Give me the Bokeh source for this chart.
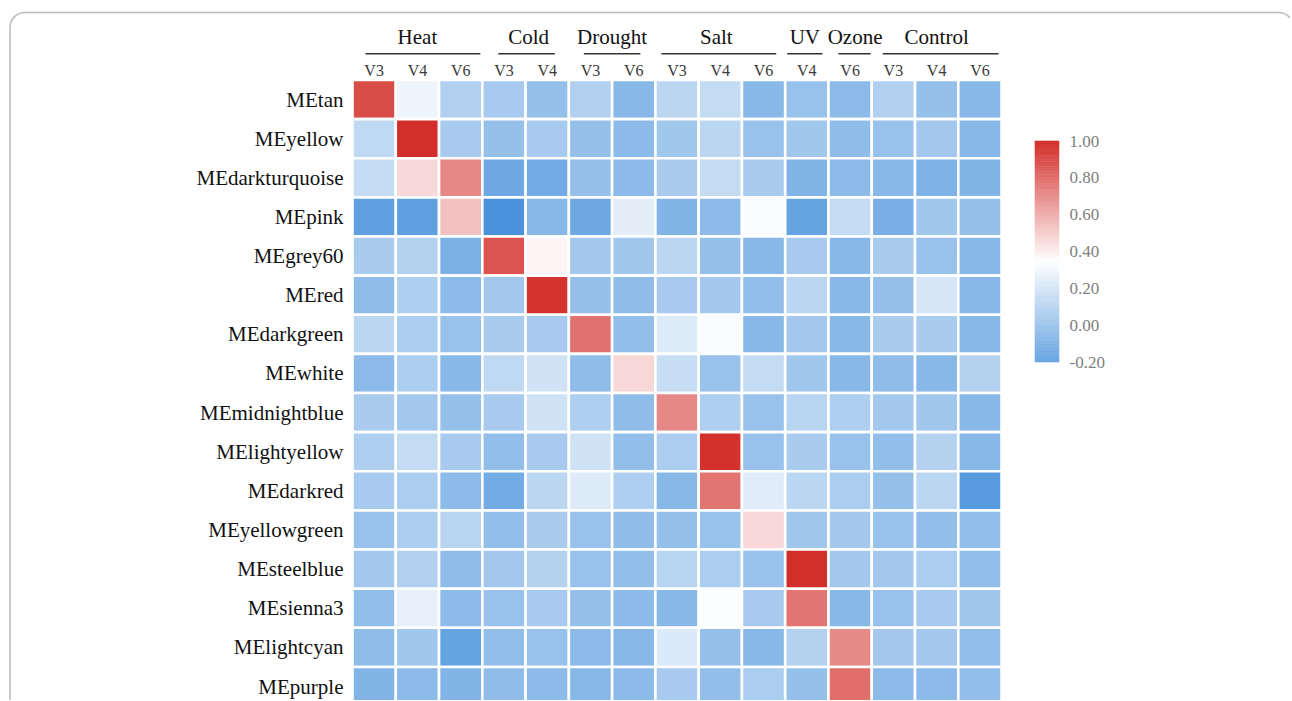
import numpy as np
from bokeh.plotting import figure
from bokeh.models import ColumnDataSource, LinearColorMapper, Range1d, BoxAnnotation
from bokeh.transform import transform
from bokeh.core.properties import value
from bokeh.embed import file_html
from bokeh.resources import INLINE

# ---------------- data ----------------
modules = ["MEtan", "MEyellow", "MEdarkturquoise", "MEpink", "MEgrey60", "MEred",
           "MEdarkgreen", "MEwhite", "MEmidnightblue", "MElightyellow", "MEdarkred",
           "MEyellowgreen", "MEsteelblue", "MEsienna3", "MElightcyan", "MEpurple"]
groups = ["Heat", "Cold", "Drought", "Salt", "UV", "Ozone", "Control"]
group_sizes = [3, 2, 2, 3, 1, 1, 3]
conditions = ["V3", "V4", "V6", "V3", "V4", "V3", "V6", "V3", "V4", "V6",
              "V4", "V6", "V3", "V4", "V6"]
cbar_ticks = [-0.2, 0.0, 0.2, 0.4, 0.6, 0.8, 1.0]

MEtan           = [0.90, 0.29, 0.07, 0.03, -0.03, 0.07, -0.08, 0.10, 0.13, -0.08, -0.02, -0.06, 0.07, -0.03, -0.08]
MEyellow        = [0.12, 1.00, 0.03, -0.03, 0.03, -0.03, -0.06, 0.01, 0.10, -0.02, 0.01, -0.05, -0.02, 0.02, -0.08]
MEdarkturquoise = [0.13, 0.47, 0.72, -0.17, -0.15, -0.03, -0.06, 0.04, 0.13, 0.04, -0.10, -0.06, -0.08, -0.11, -0.10]
MEpink          = [-0.22, -0.22, 0.54, -0.30, -0.08, -0.17, 0.25, -0.10, -0.06, 0.33, -0.20, 0.13, -0.13, 0.01, -0.03]
MEgrey60        = [0.04, 0.08, -0.12, 0.88, 0.38, 0.02, 0.01, 0.10, -0.03, -0.08, 0.03, -0.08, 0.04, -0.02, -0.08]
MEred           = [-0.05, 0.06, -0.06, 0.02, 0.98, -0.03, -0.05, 0.03, 0.02, -0.04, 0.10, -0.08, -0.03, 0.20, -0.08]
MEdarkgreen     = [0.10, 0.05, -0.02, 0.04, 0.03, 0.79, -0.04, 0.23, 0.33, -0.08, 0.02, -0.08, 0.04, 0.04, -0.08]
MEwhite         = [-0.06, 0.05, -0.08, 0.12, 0.18, -0.05, 0.47, 0.15, -0.02, 0.13, 0.01, -0.08, -0.05, -0.08, 0.08]
MEmidnightblue  = [0.04, 0.02, -0.03, 0.03, 0.18, 0.06, -0.05, 0.72, 0.06, -0.02, 0.09, 0.06, 0.02, 0.01, -0.08]
MElightyellow   = [0.06, 0.13, 0.03, -0.04, 0.03, 0.18, -0.04, 0.05, 0.99, -0.02, 0.04, -0.02, -0.04, 0.08, -0.08]
MEdarkred       = [0.03, 0.05, -0.06, -0.15, 0.10, 0.23, 0.06, -0.08, 0.78, 0.24, 0.10, 0.05, -0.03, 0.10, -0.25]
MEyellowgreen   = [-0.02, 0.05, 0.09, -0.04, 0.04, -0.02, -0.05, -0.03, -0.02, 0.47, 0.01, 0.02, -0.02, -0.04, -0.04]
MEsteelblue     = [0.02, 0.07, -0.05, 0.02, 0.08, -0.02, -0.04, 0.09, 0.05, -0.02, 1.00, 0.02, 0.02, 0.05, -0.04]
MEsienna3       = [-0.04, 0.26, -0.06, -0.02, 0.03, -0.03, -0.06, -0.08, 0.34, 0.03, 0.78, -0.08, -0.02, 0.03, 0.01]
MElightcyan     = [-0.05, 0.01, -0.20, -0.04, -0.02, -0.06, -0.08, 0.22, -0.03, -0.08, 0.08, 0.71, 0.02, 0.02, -0.04]
MEpurple        = [-0.10, -0.06, -0.10, -0.05, -0.06, -0.08, -0.06, 0.03, -0.04, 0.05, -0.03, 0.80, -0.06, -0.06, -0.04]

rows = [MEtan, MEyellow, MEdarkturquoise, MEpink, MEgrey60, MEred, MEdarkgreen, MEwhite,
        MEmidnightblue, MElightyellow, MEdarkred, MEyellowgreen, MEsteelblue, MEsienna3,
        MElightcyan, MEpurple]

# ---------------- layout (pixels on the canvas) ----------------
W, H = 1290, 700
CELL_W, CELL_H = 43.27, 39.13
GRID_LEFT, GRID_TOP = 352.0, 79.5

# header layout tweaks (pixels)
label_nudge = [0, 3, 0, -4, -2, 5, 0]
ul_pad_left = [13, 16, 15, 6, 2, 10, 11]
ul_pad_right = [2, 14, 15, 9, 6, 1, 3]


def dx(px):
    return (px - GRID_LEFT) / CELL_W


def dy(py):
    return (py - GRID_TOP) / CELL_H


# ---------------- colour ramp ----------------
LOW, MID, HIGH = -0.35, 0.35, 1.0
C_LOW = np.array([61, 139, 217])
C_MID = np.array([255, 255, 255])
C_HIGH = np.array([211, 47, 42])


def ramp(v):
    v = np.clip(v, LOW, HIGH)
    if v <= MID:
        t = (MID - v) / (MID - LOW)
        c = C_MID + t * (C_LOW - C_MID)
    else:
        t = (v - MID) / (HIGH - MID)
        c = C_MID + t * (C_HIGH - C_MID)
    c = np.round(c).astype(int)
    return "#%02x%02x%02x" % tuple(c)


palette = [ramp(v) for v in np.linspace(LOW, HIGH, 256)]
mapper = LinearColorMapper(palette=palette, low=LOW, high=HIGH)

# ---------------- figure ----------------
p = figure(width=W, height=H,
           x_range=Range1d(dx(0), dx(W)), y_range=Range1d(dy(H), dy(0)),
           output_backend="svg", toolbar_location=None,
           x_axis_location=None, y_axis_location=None,
           min_border=0, outline_line_color=None)
p.min_border_left = p.min_border_right = p.min_border_top = p.min_border_bottom = 0
p.grid.visible = False
p.background_fill_color = "white"
p.border_fill_color = "white"

# outer rounded frame
frame = BoxAnnotation(left=dx(9.5), right=dx(1293), top=dy(12), bottom=dy(790),
                      fill_color=None, fill_alpha=0, line_color="#222222",
                      line_width=1.6, border_radius=15)
p.add_layout(frame)

# heatmap cells
xs, ys, vals = [], [], []
for i, row in enumerate(rows):
    for j, v in enumerate(row):
        xs.append(j + 0.5)
        ys.append(i + 0.5)
        vals.append(v)
src = ColumnDataSource(dict(x=xs, y=ys, v=vals))
p.rect(x="x", y="y", width=1, height=1, source=src,
       fill_color=transform("v", mapper), line_color="white", line_width=2.6)

serif = value("Liberation Serif")

# row labels
p.text(x=[dx(343)] * len(modules), y=[i + 0.5 for i in range(len(modules))], text=modules,
       text_align="right", text_baseline="middle", text_font=serif,
       text_font_size="21px", text_color="#111111")

# column labels
p.text(x=[j + 0.5 for j in range(len(conditions))], y=[dy(70)] * len(conditions),
       text=conditions, text_align="center", text_baseline="middle", text_font=serif,
       text_font_size="16px", text_color="#3a3a3a")

# group labels and underlines
starts = np.cumsum([0] + group_sizes[:-1])
ends = starts + np.array(group_sizes)
centers = (starts + ends) / 2.0
p.text(x=[c + n / CELL_W for c, n in zip(centers, label_nudge)], y=[dy(36)] * len(groups),
       text=groups, text_align="center", text_baseline="middle", text_font=serif,
       text_font_size="21px", text_color="#111111")
p.segment(x0=[s + pl / CELL_W for s, pl in zip(starts, ul_pad_left)],
          y0=[dy(53.3)] * len(groups),
          x1=[e - pr / CELL_W for e, pr in zip(ends, ul_pad_right)],
          y1=[dy(53.3)] * len(groups),
          line_color="#333333", line_width=1.6)

# colour bar (drawn from the same mapper)
CB_L, CB_R, CB_T, CB_B = dx(1034.5), dx(1058.5), dy(140.5), dy(361.5)
cb_lo, cb_hi = cbar_ticks[0], cbar_ticks[-1]


def cb_y(v):
    return CB_B - (v - cb_lo) / (cb_hi - cb_lo) * (CB_B - CB_T)


steps = np.linspace(cb_lo, cb_hi, 121)
cb_src = ColumnDataSource(dict(
    left=[CB_L] * (len(steps) - 1), right=[CB_R] * (len(steps) - 1),
    bottom=[cb_y(a) for a in steps[:-1]], top=[cb_y(b) for b in steps[1:]],
    v=list((steps[:-1] + steps[1:]) / 2)))
p.quad(left="left", right="right", bottom="bottom", top="top", source=cb_src,
       fill_color=transform("v", mapper), line_color=transform("v", mapper), line_width=0.6)

p.text(x=[dx(1069)] * len(cbar_ticks), y=[cb_y(t) for t in cbar_ticks],
       text=["%.2f" % t for t in cbar_ticks], text_align="left", text_baseline="middle",
       text_font=serif, text_font_size="17px", text_color="#808080")

open("out.html", "w").write(file_html(p, INLINE))
